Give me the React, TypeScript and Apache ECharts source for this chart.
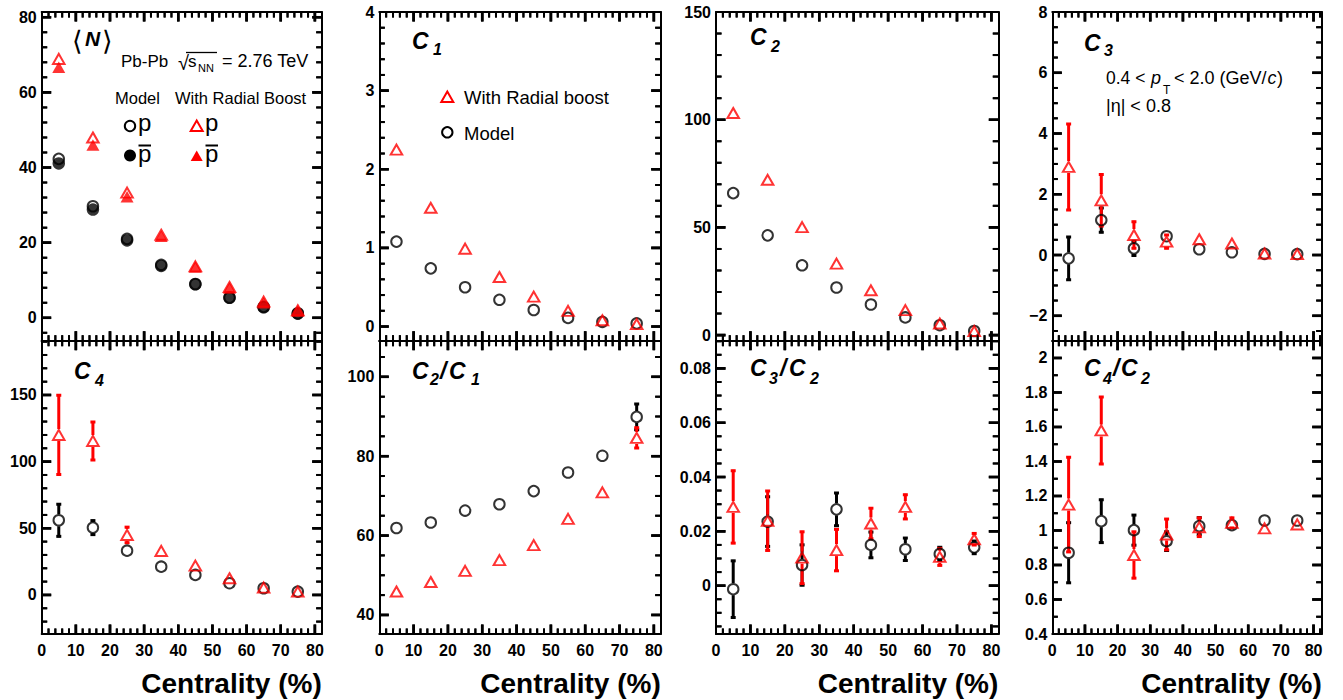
import React, { useEffect, useRef } from "react";
import * as echarts from "echarts";

const FONT = "'Liberation Sans', Arial, Helvetica, sans-serif";

// ---------- data ----------
const CENTRALITY = [5, 15, 25, 35, 45, 55, 65, 75];
const X_MIN = 0;
const X_MAJOR = 10;
const X_MINOR = 2;
const X_TITLE = "Centrality (%)";

// <N>
const N_P_MODEL = [42.3, 29.7, 21.0, 14.1, 9.0, 5.4, 2.9, 1.2];
const N_PBAR_MODEL = [41.1, 28.8, 20.6, 13.8, 8.9, 5.3, 2.8, 1.1];
const N_P_BOOST = [68.9, 48.0, 33.3, 22.1, 13.7, 8.2, 4.3, 2.0];
const N_PBAR_BOOST = [66.7, 46.0, 32.2, 21.7, 13.5, 7.9, 4.0, 1.8];

// C1
const C1_MODEL = [1.08, 0.74, 0.5, 0.34, 0.21, 0.11, 0.06, 0.04];
const C1_BOOST = [2.25, 1.51, 0.99, 0.63, 0.38, 0.2, 0.08, 0.03];

// C2
const C2_MODEL = [65.9, 46.3, 32.4, 22.1, 14.2, 8.2, 4.6, 1.9];
const C2_BOOST = [103.1, 72.1, 50.1, 33.2, 20.8, 11.6, 5.4, 1.9];

// C3
const C3_MODEL = [-0.11, 1.15, 0.22, 0.62, 0.19, 0.09, 0.04, 0.03];
const C3_MODEL_ERR = [0.74, 0.43, 0.27, 0.1, 0.05, 0.03, 0.02, 0.02];
const C3_BOOST = [2.9, 1.8, 0.66, 0.44, 0.52, 0.38, 0.05, 0.03];
const C3_BOOST_ERR = [1.45, 0.88, 0.47, 0.25, 0.1, 0.06, 0.03, 0.02];

// C4
const C4_MODEL = [56, 50.5, 33.2, 21.2, 15, 8.8, 5.0, 2.5];
const C4_MODEL_ERR = [12.8, 6, 2, 1, 1, 0.5, 0.5, 0.3];
const C4_BOOST = [120, 115.5, 45, 33, 22, 12.5, 5.5, 2.5];
const C4_BOOST_ERR = [30.5, 15, 6.6, 2, 1.5, 1, 0.5, 0.3];

// C2/C1
const C2C1_MODEL = [61.9, 63.3, 66.3, 67.9, 71.2, 75.9, 80.1, 89.9];
const C2C1_MODEL_ERR = [0.3, 0.3, 0.3, 0.4, 0.5, 0.7, 1.5, 3.5];
const C2C1_BOOST = [45.9, 48.3, 51.1, 53.8, 57.6, 64.2, 70.9, 84.6];
const C2C1_BOOST_ERR = [0.2, 0.2, 0.3, 0.3, 0.4, 0.5, 0.8, 2.8];

// C3/C2
const C3C2_MODEL = [-0.0013, 0.0236, 0.0076, 0.0281, 0.015, 0.0134, 0.0117, 0.0141];
const C3C2_MODEL_ERR = [0.0108, 0.0095, 0.0078, 0.0064, 0.0051, 0.0045, 0.0028, 0.0027];
const C3C2_BOOST = [0.029, 0.0239, 0.0103, 0.0131, 0.0229, 0.029, 0.0106, 0.0171];
const C3C2_BOOST_ERR = [0.0137, 0.0113, 0.0099, 0.008, 0.006, 0.0048, 0.0035, 0.0025];

// C4/C2
const C4C2_MODEL = [0.871, 1.054, 1.002, 0.938, 1.025, 1.031, 1.058, 1.058];
const C4C2_MODEL_ERR = [0.18, 0.13, 0.093, 0.06, 0.055, 0.02, 0.01, 0.01];
const C4C2_BOOST = [1.15, 1.58, 0.858, 0.977, 1.019, 1.044, 1.012, 1.035];
const C4C2_BOOST_ERR = [0.28, 0.2, 0.14, 0.095, 0.06, 0.035, 0.01, 0.01];

// y axis ranges and tick steps per panel (row 1: N, C1, C2, C3; row 2: C4, C2/C1, C3/C2, C4/C2)
const Y_MIN = [-6.1, -0.18, -2.6, -2.82, -29.3, 35.2, -0.0178, 0.4];
const Y_MAX = [81.4, 4, 150, 8, 190.7, 109.1, 0.0902, 2.1];
const Y_MAJOR = [20, 1, 50, 2, 50, 20, 0.02, 0.2];
const Y_MINOR = [4, 0.2, 10, 0.5, 10, 5, 0.005, 0.1];

type Kind = "circleOpen" | "circleFilled" | "triOpen" | "triFilled";
type Entry = { name: string; values: number[]; errors?: number[]; kind: Kind };

const PANEL_SERIES: Entry[][] = [
  [
    { name: "p Model", values: N_P_MODEL, kind: "circleOpen" },
    { name: "pbar Model", values: N_PBAR_MODEL, kind: "circleFilled" },
    { name: "p With Radial Boost", values: N_P_BOOST, kind: "triOpen" },
    { name: "pbar With Radial Boost", values: N_PBAR_BOOST, kind: "triFilled" },
  ],
  [
    { name: "Model", values: C1_MODEL, kind: "circleOpen" },
    { name: "With Radial boost", values: C1_BOOST, kind: "triOpen" },
  ],
  [
    { name: "Model", values: C2_MODEL, kind: "circleOpen" },
    { name: "With Radial boost", values: C2_BOOST, kind: "triOpen" },
  ],
  [
    { name: "Model", values: C3_MODEL, errors: C3_MODEL_ERR, kind: "circleOpen" },
    { name: "With Radial boost", values: C3_BOOST, errors: C3_BOOST_ERR, kind: "triOpen" },
  ],
  [
    { name: "Model", values: C4_MODEL, errors: C4_MODEL_ERR, kind: "circleOpen" },
    { name: "With Radial boost", values: C4_BOOST, errors: C4_BOOST_ERR, kind: "triOpen" },
  ],
  [
    { name: "Model", values: C2C1_MODEL, errors: C2C1_MODEL_ERR, kind: "circleOpen" },
    { name: "With Radial boost", values: C2C1_BOOST, errors: C2C1_BOOST_ERR, kind: "triOpen" },
  ],
  [
    { name: "Model", values: C3C2_MODEL, errors: C3C2_MODEL_ERR, kind: "circleOpen" },
    { name: "With Radial boost", values: C3C2_BOOST, errors: C3C2_BOOST_ERR, kind: "triOpen" },
  ],
  [
    { name: "Model", values: C4C2_MODEL, errors: C4C2_MODEL_ERR, kind: "circleOpen" },
    { name: "With Radial boost", values: C4C2_BOOST, errors: C4C2_BOOST_ERR, kind: "triOpen" },
  ],
];

// ---------- layout ----------
const COLS = [
  { left: 41.7, width: 280, xMax: 82 },
  { left: 379.3, width: 281.4, xMax: 82 },
  { left: 716, width: 282.3, xMax: 82 },
  { left: 1052.3, width: 269.4, xMax: 82.5 },
];
const ROWS = [
  { top: 12, height: 328.7 },
  { top: 340.7, height: 293.3 },
];

const RED = "#ff0000";
const BLACK = "#000000";

const MARK: Record<Kind, any> = {
  circleOpen: {
    symbol: "circle",
    symbolSize: 10.5,
    itemStyle: { color: "rgba(255,255,255,0)", borderColor: BLACK, borderWidth: 2 },
  },
  circleFilled: { symbol: "circle", symbolSize: 12.5, itemStyle: { color: BLACK, borderWidth: 0 } },
  triOpen: {
    symbol: "triangle",
    symbolSize: [11.5, 10],
    itemStyle: { color: "rgba(255,255,255,0)", borderColor: RED, borderWidth: 2 },
  },
  triFilled: { symbol: "triangle", symbolSize: [13, 11.5], itemStyle: { color: RED, borderWidth: 0 } },
};

function isMultiple(v: number, step: number) {
  const q = v / step;
  return Math.abs(q - Math.round(q)) < 1e-6;
}
function fmtNum(v: number) {
  const r = Math.round(v * 1e6) / 1e6;
  return String(r).replace("-", "\u2212");
}

function valueAxis(
  gridIndex: number,
  position: string,
  min: number,
  max: number,
  step: number,
  showLabel: boolean,
  labelMargin: number
) {
  const span = max - min;
  return {
    type: "value",
    gridIndex,
    position,
    min,
    max,
    minInterval: step,
    maxInterval: step,
    splitNumber: Math.max(1, Math.round(span / step)),
    axisLine: { show: true, onZero: false, lineStyle: { color: BLACK, width: 2 } },
    axisTick: { show: false },
    minorTick: { show: false },
    splitLine: { show: false },
    minorSplitLine: { show: false },
    splitArea: { show: false },
    axisLabel: {
      show: showLabel,
      margin: labelMargin,
      color: BLACK,
      fontFamily: FONT,
      fontWeight: "bold",
      fontSize: 16,
      formatter: (v: number) => (isMultiple(v, step) ? fmtNum(v) : ""),
    },
  };
}

// tick positions of one panel: [value, kind (0 = x, 1 = y), major]
function tickList(i: number) {
  const col = COLS[i % 4];
  const list: number[][] = [];
  const nx = Math.floor((col.xMax - X_MIN) / X_MINOR + 1e-9);
  for (let k = 1; k <= nx; k++) {
    const v = X_MIN + k * X_MINOR;
    if (v >= col.xMax - 1e-9) continue;
    list.push([v, 0, isMultiple(v, X_MAJOR) ? 1 : 0]);
  }
  const y0 = Math.ceil(Y_MIN[i] / Y_MINOR[i] - 1e-9);
  const y1 = Math.floor(Y_MAX[i] / Y_MINOR[i] + 1e-9);
  for (let k = y0; k <= y1; k++) {
    const v = k * Y_MINOR[i];
    if (v <= Y_MIN[i] + 1e-12 || v >= Y_MAX[i] - 1e-12) continue;
    list.push([v, 1, isMultiple(v, Y_MAJOR[i]) ? 1 : 0]);
  }
  return list;
}

const TICK_LEN = [5.5, 9.5];
const TICK_W = [2, 2.6];

// ticks drawn as a custom series, in the same way as the (visible) error bars
function tickSeries(i: number) {
  const col = COLS[i % 4];
  const xMax = col.xMax;
  const yMin = Y_MIN[i];
  const yMax = Y_MAX[i];
  const data = tickList(i).map(([v, kind, major]) =>
    kind === 0 ? [v, (yMin + yMax) / 2, kind, major] : [(X_MIN + xMax) / 2, v, kind, major]
  );
  return {
    type: "custom",
    name: "frame ticks",
    xAxisIndex: 2 * i,
    yAxisIndex: 2 * i,
    silent: true,
    clip: true,
    z: 3,
    data,
    renderItem: (params: any, api: any) => {
      const v0 = api.value(0);
      const v1 = api.value(1);
      const kind = api.value(2);
      const major = api.value(3) > 0.5 ? 1 : 0;
      const len = TICK_LEN[major];
      const style = { stroke: BLACK, lineWidth: TICK_W[major] };
      const bl = api.coord([X_MIN, yMin]);
      const tr = api.coord([xMax, yMax]);
      if (kind < 0.5) {
        const px = api.coord([v0, v1])[0];
        return {
          type: "group",
          children: [
            { type: "line", shape: { x1: px, y1: bl[1], x2: px, y2: bl[1] - len }, style },
            { type: "line", shape: { x1: px, y1: tr[1], x2: px, y2: tr[1] + len }, style },
          ],
        };
      }
      const py = api.coord([v0, v1])[1];
      return {
        type: "group",
        children: [
          { type: "line", shape: { x1: bl[0], y1: py, x2: bl[0] + len, y2: py }, style },
          { type: "line", shape: { x1: tr[0], y1: py, x2: tr[0] - len, y2: py }, style },
        ],
      };
    },
  };
}

function errorSeries(i: number, values: number[], errors: number[], color: string, gap: number, name: string) {
  return {
    type: "custom",
    name: name + " errors",
    xAxisIndex: 2 * i,
    yAxisIndex: 2 * i,
    silent: true,
    clip: true,
    z: 3,
    data: CENTRALITY.map((x, k) => [x, values[k], errors[k]]),
    renderItem: (params: any, api: any) => {
      const x = api.value(0);
      const y = api.value(1);
      const e = api.value(2);
      const c = api.coord([x, y]);
      const t = api.coord([x, y + e]);
      const b = api.coord([x, y - e]);
      const style = { stroke: color, lineWidth: 3 };
      const children: any[] = [];
      if (c[1] - t[1] > gap) {
        children.push({ type: "line", shape: { x1: c[0], y1: t[1], x2: c[0], y2: c[1] - gap }, style });
        children.push({ type: "line", shape: { x1: c[0] - 2.5, y1: t[1] + 1, x2: c[0] + 2.5, y2: t[1] + 1 }, style: { stroke: color, lineWidth: 3 } });
      }
      if (b[1] - c[1] > gap) {
        children.push({ type: "line", shape: { x1: c[0], y1: c[1] + gap, x2: c[0], y2: b[1] }, style });
        children.push({ type: "line", shape: { x1: c[0] - 2.5, y1: b[1] - 1, x2: c[0] + 2.5, y2: b[1] - 1 }, style: { stroke: color, lineWidth: 3 } });
      }
      return { type: "group", children };
    },
  };
}

// ---------- graphic helpers ----------
function txt(text: string, x: number, y: number, size: number, o: any = {}) {
  return {
    type: "text",
    x,
    y,
    silent: true,
    z: 20,
    style: {
      text,
      fill: o.color || BLACK,
      fontSize: size,
      fontFamily: o.family || FONT,
      fontWeight: o.bold ? "bold" : "normal",
      fontStyle: o.italic ? "italic" : "normal",
      align: o.align || "left",
      verticalAlign: "middle",
    },
  };
}
const BI = { bold: true, italic: true };
function hline(x1: number, x2: number, y: number, w: number) {
  return { type: "line", silent: true, z: 20, shape: { x1, y1: y, x2, y2: y }, style: { stroke: BLACK, lineWidth: w } };
}
function legCircle(cx: number, cy: number, filled: boolean, r = 5.2) {
  return {
    type: "circle",
    silent: true,
    z: 20,
    shape: { cx, cy, r },
    style: { fill: filled ? BLACK : "none", stroke: BLACK, lineWidth: filled ? 0 : 2 },
  };
}
function legTri(cx: number, cy: number, filled: boolean) {
  return {
    type: "polygon",
    silent: true,
    z: 20,
    shape: { points: [[cx - 6, cy + 5], [cx + 6, cy + 5], [cx, cy - 5.5]] },
    style: { fill: filled ? RED : "none", stroke: RED, lineWidth: filled ? 0 : 2 },
  };
}

function baseGraphic() {
  const graphic: any[] = [];
  COLS.forEach((c) => graphic.push(txt(X_TITLE, c.left + c.width, 683, 28, { bold: true, align: "right" })));

  graphic.push(txt("\u27E8", 72, 40, 27, { family: "'DejaVu Sans', sans-serif" }));
  graphic.push(txt("N", 85, 38, 21, BI));
  graphic.push(txt("\u27E9", 102, 40, 27, { family: "'DejaVu Sans', sans-serif" }));

  graphic.push(txt("C", 412, 41, 23, BI), txt("1", 433, 49, 16, BI));
  graphic.push(txt("C", 750, 37, 23, BI), txt("2", 771, 46, 16, BI));
  graphic.push(txt("C", 1084, 42.5, 23, BI), txt("3", 1104, 50, 16, BI));
  graphic.push(txt("C", 74, 371, 23, BI), txt("4", 95, 380, 16, BI));
  graphic.push(
    txt("C", 412, 371, 23, BI),
    txt("2", 430, 379, 16, BI),
    txt("/", 440, 371, 23, BI),
    txt("C", 449, 371, 23, BI),
    txt("1", 471, 379, 16, BI)
  );
  graphic.push(
    txt("C", 750, 368, 23, BI),
    txt("3", 769, 378, 16, BI),
    txt("/", 780, 368, 23, BI),
    txt("C", 789, 368, 23, BI),
    txt("2", 810, 378, 16, BI)
  );
  graphic.push(
    txt("C", 1084, 368, 23, BI),
    txt("4", 1103, 378, 16, BI),
    txt("/", 1113, 368, 23, BI),
    txt("C", 1121, 368, 23, BI),
    txt("2", 1141, 378, 16, BI)
  );

  graphic.push(txt("Pb-Pb", 121, 61, 17));
  graphic.push(txt("\u221A", 178, 63, 20));
  graphic.push(hline(186, 217, 52.5, 1.3));
  graphic.push(txt("s", 188, 61, 17));
  graphic.push(txt("NN", 198, 68, 11));
  graphic.push(txt("= 2.76 TeV", 222, 61, 18));
  graphic.push(txt("Model", 115, 97.5, 16.5));
  graphic.push(txt("With Radial Boost", 175, 97.5, 16.5));
  graphic.push(legCircle(130, 126, false));
  graphic.push(txt("p", 138, 122.5, 24));
  graphic.push(legCircle(130, 155.5, true, 6));
  graphic.push(txt("p", 138, 153.5, 24));
  graphic.push(hline(138.5, 151, 145.5, 2));
  graphic.push(legTri(196.7, 126, false));
  graphic.push(txt("p", 205, 122.5, 24));
  graphic.push(legTri(196.7, 156, true));
  graphic.push(txt("p", 205, 153.5, 24));
  graphic.push(hline(205.5, 218, 145.5, 2));

  graphic.push(legTri(447.3, 97, false));
  graphic.push(txt("With Radial boost", 464, 97, 18.5));
  graphic.push(legCircle(447.3, 132.3, false));
  graphic.push(txt("Model", 464, 133, 18.5));

  graphic.push(txt("0.4 <", 1106, 77.5, 17.5));
  graphic.push(txt("p", 1151, 77.5, 18, { italic: true }));
  graphic.push(txt("T", 1163, 89.5, 12));
  graphic.push(txt("< 2.0 (GeV/", 1174, 77.5, 18));
  graphic.push(txt("c", 1267.5, 77.5, 18, { italic: true }));
  graphic.push(txt(")", 1277, 77.5, 18));
  graphic.push(txt("|\u03B7| < 0.8", 1106, 106, 18));
  return graphic;
}

// second, independent copy of the ticks as graphic lines, positioned through the chart's own scales
function tickGraphic(chart: any) {
  const out: any[] = [];
  for (let i = 0; i < 8; i++) {
    const col = COLS[i % 4];
    const finder = { gridIndex: i };
    const bl = chart.convertToPixel(finder, [X_MIN, Y_MIN[i]]);
    const tr = chart.convertToPixel(finder, [col.xMax, Y_MAX[i]]);
    if (!bl || !tr || !isFinite(bl[0]) || !isFinite(tr[1])) continue;
    tickList(i).forEach(([v, kind, major]) => {
      const len = TICK_LEN[major];
      const style = { stroke: BLACK, lineWidth: TICK_W[major] };
      if (kind === 0) {
        const p = chart.convertToPixel(finder, [v, Y_MIN[i]]);
        out.push({ type: "line", silent: true, z: 19, shape: { x1: p[0], y1: bl[1], x2: p[0], y2: bl[1] - len }, style });
        out.push({ type: "line", silent: true, z: 19, shape: { x1: p[0], y1: tr[1], x2: p[0], y2: tr[1] + len }, style });
      } else {
        const p = chart.convertToPixel(finder, [X_MIN, v]);
        out.push({ type: "line", silent: true, z: 19, shape: { x1: bl[0], y1: p[1], x2: bl[0] + len, y2: p[1] }, style });
        out.push({ type: "line", silent: true, z: 19, shape: { x1: tr[0], y1: p[1], x2: tr[0] - len, y2: p[1] }, style });
      }
    });
  }
  return out;
}

function buildOption(graphic: any[]) {
  const grid: any[] = [];
  const xAxis: any[] = [];
  const yAxis: any[] = [];
  const series: any[] = [];

  for (let i = 0; i < 8; i++) {
    const col = COLS[i % 4];
    const row = ROWS[Math.floor(i / 4)];
    const bottomRow = i >= 4;
    grid.push({
      left: col.left,
      top: row.top,
      width: col.width,
      height: row.height,
      containLabel: false,
      outerBoundsMode: "none",
      show: false,
    });
    xAxis.push(valueAxis(i, "bottom", X_MIN, col.xMax, X_MAJOR, bottomRow, 8));
    xAxis.push(valueAxis(i, "top", X_MIN, col.xMax, X_MAJOR, false, 8));
    yAxis.push(valueAxis(i, "left", Y_MIN[i], Y_MAX[i], Y_MAJOR[i], true, 5));
    yAxis.push(valueAxis(i, "right", Y_MIN[i], Y_MAX[i], Y_MAJOR[i], false, 5));

    series.push(tickSeries(i));

    PANEL_SERIES[i].forEach((s, k) => {
      const color = s.kind.startsWith("tri") ? RED : BLACK;
      if (s.errors) series.push(errorSeries(i, s.values, s.errors, color, 6, s.name));
      series.push({
        type: "scatter",
        name: s.name,
        xAxisIndex: 2 * i,
        yAxisIndex: 2 * i,
        silent: true,
        clip: true,
        z: 4 + k * 0.1,
        ...MARK[s.kind],
        data: CENTRALITY.map((x, j) => [x, s.values[j]]),
      });
    });
  }

  return {
    animation: false,
    backgroundColor: "#ffffff",
    textStyle: { fontFamily: FONT },
    grid,
    xAxis,
    yAxis,
    series,
    graphic: { elements: graphic },
  };
}

export default function App() {
  const ref = useRef<HTMLDivElement>(null);
  useEffect(() => {
    if (!ref.current) return;
    const chart = echarts.init(ref.current, undefined, { renderer: "svg" });
    const base = baseGraphic();
    chart.setOption(buildOption(base) as any);
    let ticks: any[] = [];
    try {
      ticks = tickGraphic(chart);
    } catch (e) {
      ticks = [];
    }
    if (ticks.length) {
      chart.setOption({ graphic: { elements: base.concat(ticks) } } as any);
    }
    return () => chart.dispose();
  }, []);
  return (
    <div
      ref={ref}
      style={{ position: "fixed", left: 0, top: 0, width: 1343, height: 700, background: "#fff" }}
    />
  );
}
